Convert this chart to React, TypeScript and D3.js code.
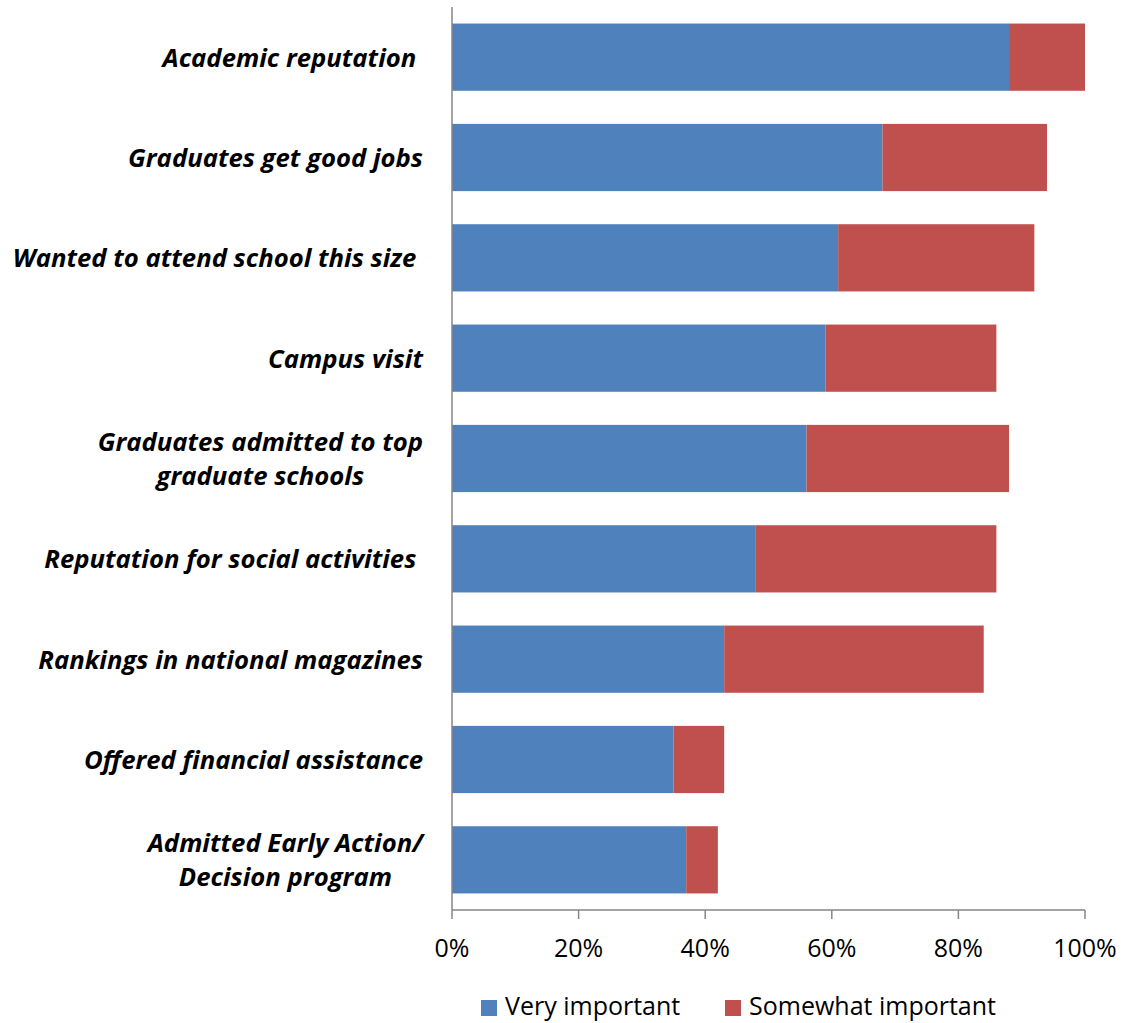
import React, { useEffect, useRef } from "react";
import * as d3 from "d3";

const categories: string[][] = [
  ["Academic reputation "],
  ["Graduates get good jobs"],
  ["Wanted to attend school this size "],
  ["Campus visit"],
  ["Graduates admitted to top", "graduate schools"],
  ["Reputation for social activities "],
  ["Rankings in national magazines"],
  ["Offered financial assistance"],
  ["Admitted Early Action/", "Decision program"],
];
const veryImportant: number[] = [88, 68, 61, 59, 56, 48, 43, 35, 37];
const somewhatImportant: number[] = [12, 26, 31, 27, 32, 38, 41, 8, 5];
const xTicks: number[] = [0, 20, 40, 60, 80, 100];
const seriesNames: string[] = ["Very important", "Somewhat important"];
const seriesColors: string[] = ["#4F81BD", "#C0504D"];

const W = 1127;
const H = 1023;
const FONT = "'Open Sans', sans-serif";

export default function App() {
  const ref = useRef<SVGSVGElement | null>(null);

  useEffect(() => {
    const svg = d3.select(ref.current);
    svg.selectAll("*").remove();

    const x = d3.scaleLinear().domain([0, 100]).range([452, 1085]);
    const y = d3
      .scaleBand<number>()
      .domain(d3.range(categories.length))
      .range([7, 910])
      .paddingInner(0.33)
      .paddingOuter(0.165);

    const g = svg.append("g");

    categories.forEach((_, i) => {
      const v = veryImportant[i];
      const s = somewhatImportant[i];
      g.append("rect")
        .attr("x", x(0))
        .attr("y", y(i)!)
        .attr("width", x(v) - x(0))
        .attr("height", y.bandwidth())
        .attr("fill", seriesColors[0]);
      g.append("rect")
        .attr("x", x(v))
        .attr("y", y(i)!)
        .attr("width", x(v + s) - x(v))
        .attr("height", y.bandwidth())
        .attr("fill", seriesColors[1]);
    });

    const axisColor = "#868686";
    g.append("line")
      .attr("x1", x(0))
      .attr("x2", x(0))
      .attr("y1", 7)
      .attr("y2", 910)
      .attr("stroke", axisColor)
      .attr("stroke-width", 1.5);
    g.append("line")
      .attr("x1", x(0))
      .attr("x2", x(100))
      .attr("y1", 910)
      .attr("y2", 910)
      .attr("stroke", axisColor)
      .attr("stroke-width", 1.5);

    xTicks.forEach((t) => {
      g.append("line")
        .attr("x1", x(t))
        .attr("x2", x(t))
        .attr("y1", 910)
        .attr("y2", 919)
        .attr("stroke", axisColor)
        .attr("stroke-width", 1.5);
      g.append("text")
        .attr("x", x(t))
        .attr("y", 957)
        .attr("text-anchor", "middle")
        .attr("font-family", FONT)
        .attr("font-size", 25)
        .attr("fill", "#000")
        .text(`${t}%`);
    });

    const labelRight = 423;
    const lineGap = 34;
    categories.forEach((lines, i) => {
      const cy = y(i)! + y.bandwidth() / 2;
      const lg = g.append("g");
      const texts = lines.map((ln, k) =>
        lg
          .append("text")
          .attr("font-family", FONT)
          .attr("font-size", 25.7)
          .attr("font-weight", "bold")
          .attr("font-style", "italic")
          .attr("fill", "#000")
          .style("white-space", "pre")
          .attr("dominant-baseline", "central")
          .attr("y", cy + (k - (lines.length - 1) / 2) * lineGap)
          .text(ln)
      );
      const widths = texts.map((t) => (t.node() as SVGTextElement).getComputedTextLength());
      const maxW = Math.max(...widths);
      texts.forEach((t) => {
        if (lines.length === 1) {
          t.attr("x", labelRight).attr("text-anchor", "end");
        } else {
          t.attr("x", labelRight - maxW / 2).attr("text-anchor", "middle");
        }
      });
    });

    const legendItems = [
      { name: seriesNames[0], color: seriesColors[0], x: 481 },
      { name: seriesNames[1], color: seriesColors[1], x: 725 },
    ];
    legendItems.forEach((it) => {
      g.append("rect")
        .attr("x", it.x)
        .attr("y", 1000)
        .attr("width", 16)
        .attr("height", 16)
        .attr("fill", it.color);
      g.append("text")
        .attr("x", it.x + 24)
        .attr("y", 1015)
        .attr("font-family", FONT)
        .attr("font-size", 25)
        .attr("fill", "#000")
        .text(it.name);
    });
  }, []);

  return (
    <svg
      ref={ref}
      width={W}
      height={H}
      style={{ position: "absolute", left: 0, top: 0, background: "#fff" }}
    />
  );
}
